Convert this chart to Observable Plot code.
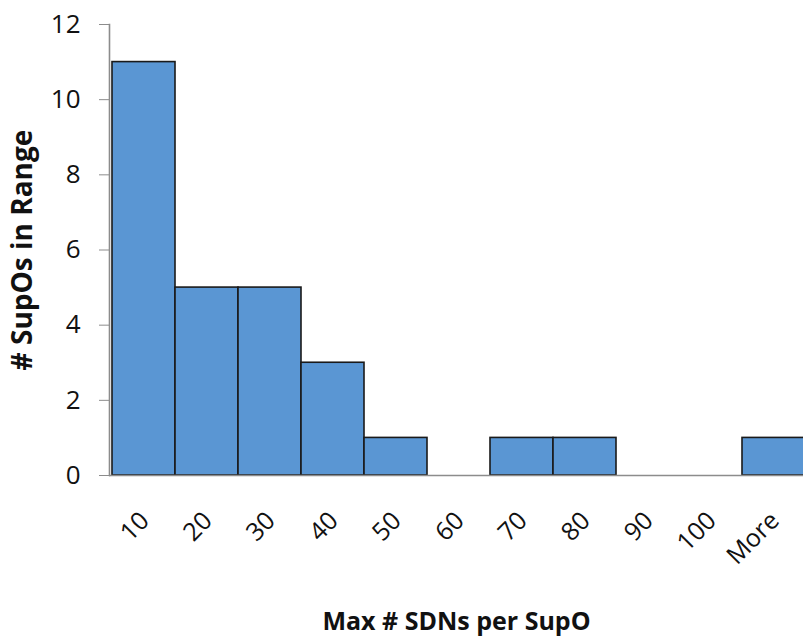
<!DOCTYPE html>
<html>
<head>
<meta charset="utf-8">
<script src="https://cdn.jsdelivr.net/npm/d3@7"></script>
<script src="https://cdn.jsdelivr.net/npm/@observablehq/plot@0.6"></script>
<style>
  html, body { margin: 0; padding: 0; background: #fff; }
  #chart svg { display: block; }
</style>
</head>
<body>
<div id="chart"></div>
<script>
const bins = ["10", "20", "30", "40", "50", "60", "70", "80", "90", "100", "More"];
const counts = [11, 5, 5, 3, 1, 0, 1, 1, 0, 0, 1];
const yTicks = [0, 2, 4, 6, 8, 10, 12];
const xTitle = "Max # SDNs per SupO";
const yTitle = "# SupOs in Range";

const data = bins.map((b, i) => ({bin: b, count: counts[i]}));
const font = "'Open Sans', sans-serif";

const chart = Plot.plot({
  width: 803,
  height: 641,
  marginLeft: 109,
  marginRight: 0,
  marginTop: 24,
  marginBottom: 166,
  style: {fontFamily: font, background: "#fff", color: "#111"},
  x: {domain: bins, range: [110, 807], padding: 0, label: null},
  y: {domain: [0, 12], label: null},
  marks: [
    Plot.barY(data.filter(d => d.count > 0), {
      x: "bin", y: "count", fill: "#5a96d3", stroke: "#1a1a1a", strokeWidth: 1.6
    }),
    Plot.frame({anchor: "left", stroke: "#8c8c8c", strokeWidth: 1.6}),
    Plot.ruleY([0], {stroke: "#8c8c8c", strokeWidth: 1.6}),
    Plot.axisY({ticks: yTicks, tickSize: 10, tickPadding: 19, stroke: "#8c8c8c",
      fontSize: 26, tickFormat: d => String(d), label: null}),
    Plot.axisX({tickSize: 0, tickRotate: -45, tickPadding: 41, dx: 1, fontSize: 25, label: null}),
    Plot.text([xTitle], {frameAnchor: "bottom", dy: 154, fontSize: 25, fontWeight: "bold", fill: "#111"}),
    Plot.text([yTitle], {frameAnchor: "left", textAnchor: "middle", dx: -86, rotate: -90, fontSize: 28, fontWeight: "bold", fill: "#111"})
  ]
});
document.getElementById("chart").appendChild(chart);
</script>
</body>
</html>
